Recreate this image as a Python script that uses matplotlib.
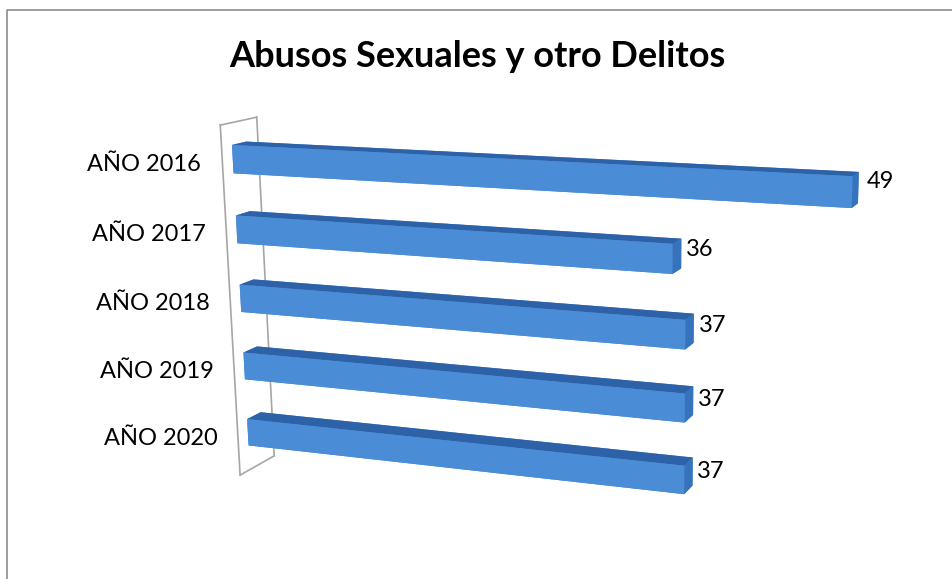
import matplotlib
matplotlib.use('Agg')
import matplotlib.pyplot as plt
from matplotlib.lines import Line2D
from mpl_toolkits.mplot3d import proj3d

plt.rcParams['font.family'] = ['Lato', 'DejaVu Sans']

# data
years = ['AÑO 2016', 'AÑO 2017', 'AÑO 2018', 'AÑO 2019', 'AÑO 2020']
cases = [49, 36, 37, 37, 37]
title = 'Abusos Sexuales y otro Delitos'

front_c = '#4a8cd6'
top_c = '#2e62a8'
end_c = '#3772bd'
wall_c = '#a6a6a6'

fig = plt.figure(figsize=(9.53, 5.79), dpi=100)
ax = fig.add_axes([0.2278, -0.2924, 0.8611, 1.4173], projection='3d')
ax.set_proj_type('persp', focal_length=0.3945)
ax.view_init(elev=13.7, azim=-71.1)
ax.set_xlim(5.5, 60.5)
ax.set_ylim(0, 1)
ax.set_zlim(-0.65, 4.65)
ax.set_box_aspect((742.5, 72, 397.5))
ax.set_axis_off()

# side wall (thin frame)
zlo, zhi = -0.57, 4.51
ax.plot([0, 0], [1, 1], [zlo, zhi], color=wall_c, lw=1.2)
ax.plot([0, 0], [0, 0], [zlo, zhi], color=wall_c, lw=1.2)
ax.plot([0, 0], [0, 1], [zhi, zhi], color=wall_c, lw=1.2)
ax.plot([0, 0], [0, 1], [zlo, zlo], color=wall_c, lw=1.2)

bar_h = 0.4
y0, dep = 0.28, 0.39
n = len(years)
M = ax.get_proj()


def put(x, y, z, s, **kw):
    # place 2D text at the projected spot of a 3D point
    px, py, _ = proj3d.proj_transform(x, y, z, M)
    ax.text2D(px, py, s, **kw)


for i, (yr, v) in enumerate(zip(years, cases)):
    zc = n - 1 - i
    # faces: bottom, top, front, back, left, right
    ax.bar3d(0, y0, zc - bar_h / 2, v, dep, bar_h,
             color=[front_c, top_c, front_c, front_c, front_c, end_c],
             shade=False, edgecolor='none')
    put(-1.9, 0.0, zc - 0.05, yr, ha='right', va='center', fontsize=17)
    put(v + 1.0, y0, zc + 0.14, str(v), ha='left', va='center', fontsize=17)

fig.text(0.501, 1 - 67 / 579, title, ha='center', va='baseline',
         fontsize=26, fontweight='bold')

# chart border
fig.add_artist(Line2D([7 / 953, 7 / 953, 1], [0, 1 - 10 / 579, 1 - 10 / 579],
                      transform=fig.transFigure, color='#8c8c8c', lw=1.2))

fig.savefig('out.png', dpi=100)
